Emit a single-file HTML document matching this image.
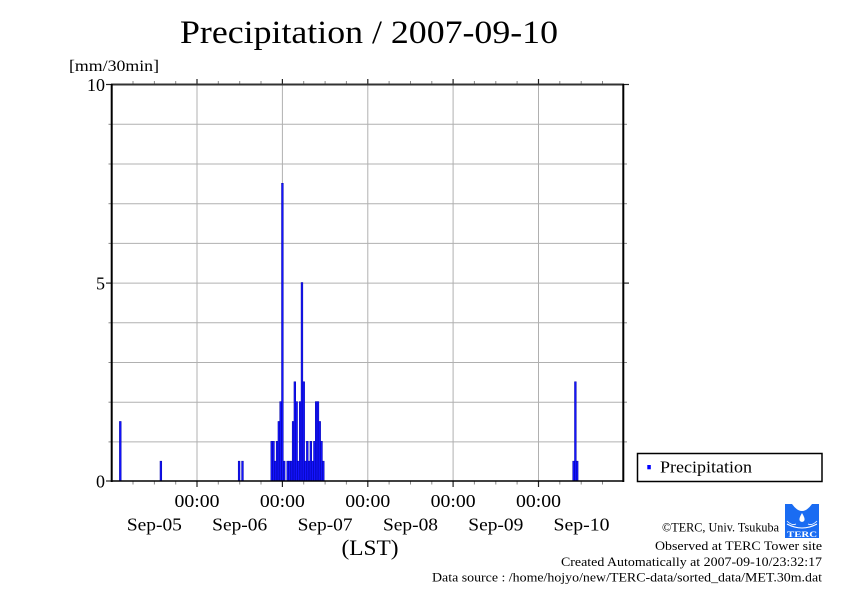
<!DOCTYPE html>
<html><head><meta charset="utf-8"><style>
html,body{margin:0;padding:0;background:#fff;}
svg{display:block;}
text{font-family:"Liberation Serif",serif;fill:#000;}
</style></head><body>
<svg width="842" height="595" viewBox="0 0 842 595" xmlns="http://www.w3.org/2000/svg">
<rect width="842" height="595" fill="#fff"/>
<text x="180" y="43" font-size="33" textLength="378" lengthAdjust="spacingAndGlyphs">Precipitation / 2007-09-10</text>
<text x="69" y="71" font-size="16" textLength="90" lengthAdjust="spacingAndGlyphs">[mm/30min]</text>
<!-- grid -->
<g stroke="#b0b0b0" stroke-width="1">
<line x1="112" y1="124.3" x2="623" y2="124.3"/>
<line x1="112" y1="164" x2="623" y2="164"/>
<line x1="112" y1="203.7" x2="623" y2="203.7"/>
<line x1="112" y1="243.4" x2="623" y2="243.4"/>
<line x1="112" y1="283.1" x2="623" y2="283.1"/>
<line x1="112" y1="322.8" x2="623" y2="322.8"/>
<line x1="112" y1="362.5" x2="623" y2="362.5"/>
<line x1="112" y1="402.2" x2="623" y2="402.2"/>
<line x1="112" y1="441.9" x2="623" y2="441.9"/>
<line x1="197" y1="85" x2="197" y2="481"/>
<line x1="282.4" y1="85" x2="282.4" y2="481"/>
<line x1="367.8" y1="85" x2="367.8" y2="481"/>
<line x1="453.1" y1="85" x2="453.1" y2="481"/>
<line x1="538.5" y1="85" x2="538.5" y2="481"/>
</g>
<!-- bars -->
<g fill="#1414ff" stroke="#0000a8" stroke-width="0.5">
<rect x="119.4" y="421.45" width="1.78" height="59.55"/>
<rect x="160.0" y="461.15" width="1.78" height="19.85"/>
<rect x="238.2" y="461.15" width="1.78" height="19.85"/>
<rect x="241.6" y="461.15" width="1.78" height="19.85"/>
<rect x="270.84" y="441.3" width="1.78" height="39.7"/>
<rect x="272.62" y="441.3" width="1.78" height="39.7"/>
<rect x="274.40" y="461.15" width="1.78" height="19.85"/>
<rect x="276.18" y="441.3" width="1.78" height="39.7"/>
<rect x="277.96" y="421.45" width="1.78" height="59.55"/>
<rect x="279.73" y="401.6" width="1.78" height="79.4"/>
<rect x="281.51" y="183.25" width="1.78" height="297.75"/>
<rect x="283.29" y="461.15" width="1.78" height="19.85"/>
<rect x="286.85" y="461.15" width="1.78" height="19.85"/>
<rect x="288.62" y="461.15" width="1.78" height="19.85"/>
<rect x="290.40" y="461.15" width="1.78" height="19.85"/>
<rect x="292.18" y="421.45" width="1.78" height="59.55"/>
<rect x="293.96" y="381.75" width="1.78" height="99.25"/>
<rect x="295.74" y="401.6" width="1.78" height="79.4"/>
<rect x="297.51" y="461.15" width="1.78" height="19.85"/>
<rect x="299.29" y="401.6" width="1.78" height="79.4"/>
<rect x="301.07" y="282.5" width="1.78" height="198.5"/>
<rect x="302.85" y="381.75" width="1.78" height="99.25"/>
<rect x="304.63" y="461.15" width="1.78" height="19.85"/>
<rect x="306.40" y="441.3" width="1.78" height="39.7"/>
<rect x="308.18" y="461.15" width="1.78" height="19.85"/>
<rect x="309.96" y="441.3" width="1.78" height="39.7"/>
<rect x="311.74" y="461.15" width="1.78" height="19.85"/>
<rect x="313.52" y="441.3" width="1.78" height="39.7"/>
<rect x="315.29" y="401.6" width="1.78" height="79.4"/>
<rect x="317.07" y="401.6" width="1.78" height="79.4"/>
<rect x="318.85" y="421.45" width="1.78" height="59.55"/>
<rect x="320.63" y="441.3" width="1.78" height="39.7"/>
<rect x="322.40" y="461.15" width="1.78" height="19.85"/>
<rect x="572.7" y="461.15" width="1.78" height="19.85"/>
<rect x="574.5" y="381.75" width="1.78" height="99.25"/>
<rect x="576.3" y="461.15" width="1.78" height="19.85"/>
</g>
<!-- ticks -->
<g stroke="#888" stroke-width="1">
<line x1="133" y1="481" x2="133" y2="484.5"/><line x1="154.4" y1="481" x2="154.4" y2="484.5"/><line x1="175.7" y1="481" x2="175.7" y2="484.5"/>
<line x1="218.3" y1="481" x2="218.3" y2="484.5"/><line x1="239.7" y1="481" x2="239.7" y2="484.5"/><line x1="261" y1="481" x2="261" y2="484.5"/>
<line x1="303.7" y1="481" x2="303.7" y2="484.5"/><line x1="325.1" y1="481" x2="325.1" y2="484.5"/><line x1="346.4" y1="481" x2="346.4" y2="484.5"/>
<line x1="389.1" y1="481" x2="389.1" y2="484.5"/><line x1="410.5" y1="481" x2="410.5" y2="484.5"/><line x1="431.8" y1="481" x2="431.8" y2="484.5"/>
<line x1="474.4" y1="481" x2="474.4" y2="484.5"/><line x1="495.8" y1="481" x2="495.8" y2="484.5"/><line x1="517.1" y1="481" x2="517.1" y2="484.5"/>
<line x1="559.8" y1="481" x2="559.8" y2="484.5"/><line x1="581.2" y1="481" x2="581.2" y2="484.5"/><line x1="602.5" y1="481" x2="602.5" y2="484.5"/>
<line x1="133" y1="81" x2="133" y2="85"/><line x1="154.4" y1="81" x2="154.4" y2="85"/><line x1="175.7" y1="81" x2="175.7" y2="85"/>
<line x1="218.3" y1="81" x2="218.3" y2="85"/><line x1="239.7" y1="81" x2="239.7" y2="85"/><line x1="261" y1="81" x2="261" y2="85"/>
<line x1="303.7" y1="81" x2="303.7" y2="85"/><line x1="325.1" y1="81" x2="325.1" y2="85"/><line x1="346.4" y1="81" x2="346.4" y2="85"/>
<line x1="389.1" y1="81" x2="389.1" y2="85"/><line x1="410.5" y1="81" x2="410.5" y2="85"/><line x1="431.8" y1="81" x2="431.8" y2="85"/>
<line x1="474.4" y1="81" x2="474.4" y2="85"/><line x1="495.8" y1="81" x2="495.8" y2="85"/><line x1="517.1" y1="81" x2="517.1" y2="85"/>
<line x1="559.8" y1="81" x2="559.8" y2="85"/><line x1="581.2" y1="81" x2="581.2" y2="85"/><line x1="602.5" y1="81" x2="602.5" y2="85"/>
<line x1="108.5" y1="124.3" x2="112" y2="124.3"/><line x1="108.5" y1="164" x2="112" y2="164"/><line x1="108.5" y1="203.7" x2="112" y2="203.7"/>
<line x1="108.5" y1="243.4" x2="112" y2="243.4"/><line x1="108.5" y1="322.8" x2="112" y2="322.8"/><line x1="108.5" y1="362.5" x2="112" y2="362.5"/>
<line x1="108.5" y1="402.2" x2="112" y2="402.2"/><line x1="108.5" y1="441.9" x2="112" y2="441.9"/>
<line x1="623" y1="124.3" x2="627" y2="124.3"/><line x1="623" y1="164" x2="627" y2="164"/><line x1="623" y1="203.7" x2="627" y2="203.7"/>
<line x1="623" y1="243.4" x2="627" y2="243.4"/><line x1="623" y1="322.8" x2="627" y2="322.8"/><line x1="623" y1="362.5" x2="627" y2="362.5"/>
<line x1="623" y1="402.2" x2="627" y2="402.2"/><line x1="623" y1="441.9" x2="627" y2="441.9"/>
</g>
<g stroke="#222" stroke-width="1.2">
<line x1="197" y1="481" x2="197" y2="487"/><line x1="282.4" y1="481" x2="282.4" y2="487"/><line x1="367.8" y1="481" x2="367.8" y2="487"/>
<line x1="453.1" y1="481" x2="453.1" y2="487"/><line x1="538.5" y1="481" x2="538.5" y2="487"/>
<line x1="197" y1="79" x2="197" y2="85"/><line x1="282.4" y1="79" x2="282.4" y2="85"/><line x1="367.8" y1="79" x2="367.8" y2="85"/>
<line x1="453.1" y1="79" x2="453.1" y2="85"/><line x1="538.5" y1="79" x2="538.5" y2="85"/>
<line x1="106" y1="84.5" x2="112" y2="84.5"/><line x1="106" y1="283.1" x2="112" y2="283.1"/><line x1="106" y1="481" x2="112" y2="481"/>
<line x1="623" y1="84.5" x2="629" y2="84.5"/><line x1="623" y1="283.1" x2="629" y2="283.1"/>
</g>
<!-- axes -->
<line x1="111" y1="84.5" x2="624" y2="84.5" stroke="#333" stroke-width="2"/>
<line x1="111.7" y1="84" x2="111.7" y2="482" stroke="#000" stroke-width="2"/>
<line x1="623.3" y1="84" x2="623.3" y2="482" stroke="#000" stroke-width="2"/>
<line x1="111" y1="481" x2="624" y2="481" stroke="#000" stroke-width="1.6"/>
<!-- y labels -->
<text x="105" y="91" font-size="18" text-anchor="end">10</text>
<text x="105" y="289.6" font-size="18" text-anchor="end">5</text>
<text x="105" y="487.5" font-size="18" text-anchor="end">0</text>
<!-- x labels -->
<g font-size="18" text-anchor="middle">
<text x="197" y="507" textLength="45" lengthAdjust="spacingAndGlyphs">00:00</text>
<text x="282.4" y="507" textLength="45" lengthAdjust="spacingAndGlyphs">00:00</text>
<text x="367.8" y="507" textLength="45" lengthAdjust="spacingAndGlyphs">00:00</text>
<text x="453.1" y="507" textLength="45" lengthAdjust="spacingAndGlyphs">00:00</text>
<text x="538.5" y="507" textLength="45" lengthAdjust="spacingAndGlyphs">00:00</text>
<text x="154.4" y="530.5" textLength="55" lengthAdjust="spacingAndGlyphs">Sep-05</text>
<text x="239.7" y="530.5" textLength="55" lengthAdjust="spacingAndGlyphs">Sep-06</text>
<text x="325.1" y="530.5" textLength="55" lengthAdjust="spacingAndGlyphs">Sep-07</text>
<text x="410.5" y="530.5" textLength="55" lengthAdjust="spacingAndGlyphs">Sep-08</text>
<text x="495.8" y="530.5" textLength="55" lengthAdjust="spacingAndGlyphs">Sep-09</text>
<text x="581.5" y="530.5" textLength="56" lengthAdjust="spacingAndGlyphs">Sep-10</text>
</g>
<text x="370" y="555" font-size="22" text-anchor="middle" textLength="57" lengthAdjust="spacingAndGlyphs">(LST)</text>
<!-- legend -->
<rect x="637.5" y="453.5" width="184.5" height="28" fill="#fff" stroke="#000" stroke-width="1.5"/>
<rect x="647.3" y="465" width="3.5" height="4.3" fill="#0000ff"/>
<text x="660" y="472.5" font-size="17" textLength="92" lengthAdjust="spacingAndGlyphs">Precipitation</text>
<!-- logo -->
<g>
<rect x="785" y="504" width="34" height="34" fill="#1a6cf2"/>
<path d="M792 504 Q802 518 812 504 Z" fill="#fff"/>
<path d="M802 513 Q799 518 799.5 520 A2.6 2.6 0 0 0 804.5 520 Q805 518 802 513 Z" fill="#fff"/>
<path d="M787 524 Q802 532 817 524" stroke="#fff" stroke-width="1" fill="none"/>
<path d="M787 521 Q792 526 796 524" stroke="#fff" stroke-width="0.8" fill="none"/>
<path d="M808 524 Q812 526 817 521" stroke="#fff" stroke-width="0.8" fill="none"/>
<text x="802" y="537" font-size="8" font-weight="bold" text-anchor="middle" style="fill:#fff" textLength="30" lengthAdjust="spacingAndGlyphs">TERC</text>
</g>
<!-- footer -->
<g font-size="13" text-anchor="end">
<text x="779" y="531.5" textLength="117" lengthAdjust="spacingAndGlyphs">©TERC, Univ. Tsukuba</text>
<text x="822" y="550" textLength="167" lengthAdjust="spacingAndGlyphs">Observed at TERC Tower site</text>
<text x="822" y="566" textLength="261" lengthAdjust="spacingAndGlyphs">Created Automatically at 2007-09-10/23:32:17</text>
<text x="822" y="581.5" textLength="390" lengthAdjust="spacingAndGlyphs">Data source : /home/hojyo/new/TERC-data/sorted_data/MET.30m.dat</text>
</g>
</svg>
</body></html>
